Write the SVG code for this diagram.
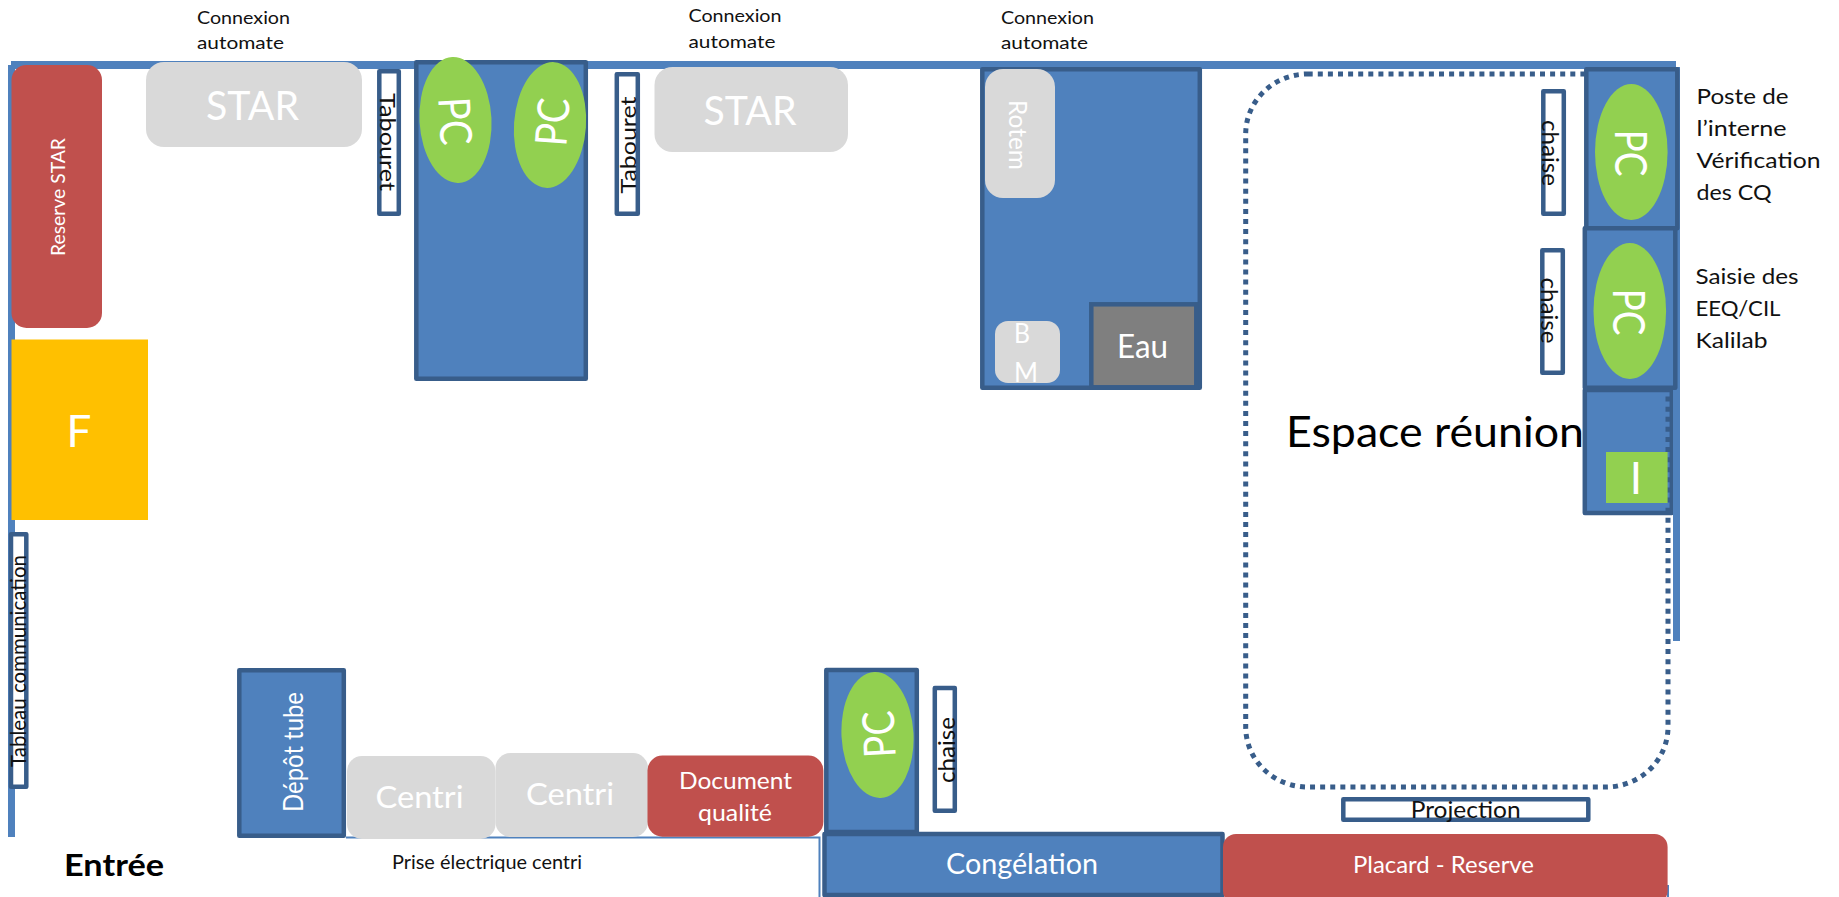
<svg xmlns="http://www.w3.org/2000/svg" width="1839" height="897" viewBox="0 0 1839 897">
<style>
text{font-family:"Lato","Carlito","Open Sans",sans-serif}
.w{fill:#fff}.k{fill:#111}.m{text-anchor:middle}
.desk{fill:#4F81BD;stroke:#385D8A;stroke-width:4.5;stroke-linejoin:round}
.box{fill:#fff;stroke:#385D8A;stroke-width:4.5;stroke-linejoin:round}
.red{fill:#C0504D}.gray{fill:#D9D9D9}.pc{fill:#92D050}.wall{fill:#4F81BD}
.dot{fill:none;stroke:#385D8A;stroke-width:5;stroke-dasharray:5 5.1}
</style>
<rect width="1839" height="897" fill="#fff"/>
<g id="walls">
<rect class="wall" x="11" y="61" width="1665" height="8"/>
<rect class="wall" x="8" y="65" width="7" height="772"/>
<rect class="wall" x="1673" y="67" width="7" height="574"/>
<path d="M346 837.5H819.5V897M1668 885V897" fill="none" stroke="#4F81BD" stroke-width="2"/>
</g>
<g id="reserve-star"><rect class="red" x="11.500" y="65" width="90.500" height="263" rx="15"/>
<text class="w m" font-size="20" textLength="118" lengthAdjust="spacingAndGlyphs" transform="translate(65,197) rotate(-90)">Reserve STAR</text></g>
<g id="star-1"><rect class="gray" x="146" y="62" width="216" height="85" rx="18"/>
<text class="w m" x="252.500" y="120" font-size="41" textLength="93" lengthAdjust="spacingAndGlyphs">STAR</text></g>
<g id="tabouret-1"><rect class="box" x="379.300" y="71.300" width="19.500" height="142.500"/>
<text class="k m" font-size="22" textLength="98" lengthAdjust="spacingAndGlyphs" transform="translate(380,142) rotate(90)">Tabouret</text></g>
<g id="desk-1"><rect class="desk" x="416.300" y="62.300" width="169.500" height="316.500"/>
<ellipse class="pc" cx="455.500" cy="120" rx="36" ry="63" transform="rotate(-3 455.500 120)"/>
<ellipse class="pc" cx="550" cy="125" rx="36" ry="63" transform="rotate(4 550 125)"/>
<text class="w m" font-size="44" textLength="48" lengthAdjust="spacingAndGlyphs" transform="translate(439.500,122) rotate(87)">PC</text>
<text class="w m" font-size="44" textLength="48" lengthAdjust="spacingAndGlyphs" transform="translate(568,123) rotate(-86)">PC</text></g>
<g id="tabouret-2"><rect class="box" x="616.800" y="74.300" width="21" height="139.500"/>
<text class="k m" font-size="22" textLength="97" lengthAdjust="spacingAndGlyphs" transform="translate(636.400,145) rotate(-90)">Tabouret</text></g>
<g id="star-2"><rect class="gray" x="654.500" y="67" width="193.500" height="85" rx="18"/>
<text class="w m" x="750" y="125" font-size="41" textLength="93" lengthAdjust="spacingAndGlyphs">STAR</text></g>
<g id="desk-3"><rect class="desk" x="982.300" y="69.300" width="217.500" height="318.500"/>
<rect class="gray" x="985" y="69" width="70" height="129" rx="18"/>
<text class="w m" font-size="25" textLength="70" lengthAdjust="spacingAndGlyphs" transform="translate(1008.500,135) rotate(90)">Rotem</text>
<rect class="gray" x="995" y="321" width="65" height="62" rx="13"/>
<text class="w" x="1014" y="343" font-size="27" textLength="16" lengthAdjust="spacingAndGlyphs">B</text>
<text class="w" x="1014" y="382" font-size="27" textLength="24" lengthAdjust="spacingAndGlyphs">M</text>
<rect x="1091.300" y="304.300" width="105" height="83" fill="#7F7F7F" stroke="#385D8A" stroke-width="4.500"/>
<text class="w m" x="1142.500" y="358" font-size="33" textLength="51" lengthAdjust="spacingAndGlyphs">Eau</text></g>
<g id="desk-r3"><rect class="desk" x="1584.800" y="390" width="87" height="123"/><rect class="wall" x="1673" y="390" width="7" height="125"/></g>
<g id="espace-reunion"><rect class="dot" x="1245.700" y="74" width="422.300" height="713" rx="62" ry="60"/>
<text x="1286" y="447" font-size="42" fill="#000" textLength="298" lengthAdjust="spacingAndGlyphs">Espace réunion</text></g>
<g id="chaise-1"><rect class="box" x="1543.300" y="91.300" width="20.500" height="122.500"/>
<text class="k m" font-size="24" textLength="66" lengthAdjust="spacingAndGlyphs" transform="translate(1542,153) rotate(90)">chaise</text></g>
<g id="chaise-2"><rect class="box" x="1542.300" y="250.300" width="20.500" height="122.500"/>
<text class="k m" font-size="24" textLength="66" lengthAdjust="spacingAndGlyphs" transform="translate(1541,310.500) rotate(90)">chaise</text></g>
<g id="desk-r1"><rect class="desk" x="1586.300" y="69.300" width="91" height="159"/>
<ellipse class="pc" cx="1631.300" cy="152" rx="36.300" ry="68"/>
<text class="w m" font-size="44" textLength="47" lengthAdjust="spacingAndGlyphs" transform="translate(1615,153) rotate(90)">PC</text></g>
<g id="desk-r2"><rect class="desk" x="1584.800" y="228.300" width="90.500" height="159.500"/>
<ellipse class="pc" cx="1629.800" cy="311" rx="36.300" ry="68"/>
<text class="w m" font-size="44" textLength="47" lengthAdjust="spacingAndGlyphs" transform="translate(1613.400,312) rotate(90)">PC</text></g>
<g id="green-square"><rect class="pc" x="1606" y="452" width="61.600" height="51"/>
<text class="w m" x="1636" y="494" font-size="44">I</text></g>
<g id="f"><rect x="11.500" y="339.500" width="136.500" height="180.500" fill="#FFC000"/>
<text class="w m" x="79" y="447" font-size="44">F</text></g>
<g id="tableau"><rect class="box" x="11" y="534.300" width="15.300" height="252.500"/>
<text class="k m" font-size="22" textLength="212" lengthAdjust="spacingAndGlyphs" transform="translate(25.700,661) rotate(-90)">Tableau communication</text></g>
<g id="depot-tube"><rect class="desk" x="239.300" y="670.300" width="104.500" height="165.500"/>
<text class="w m" font-size="27" textLength="120" lengthAdjust="spacingAndGlyphs" transform="translate(302.500,752) rotate(-90)">Dépôt tube</text></g>
<g id="centri-1"><rect class="gray" x="347" y="756" width="148.500" height="83" rx="15"/>
<text class="w m" x="419.500" y="808" font-size="31" textLength="88" lengthAdjust="spacingAndGlyphs">Centri</text></g>
<g id="centri-2"><rect class="gray" x="495.500" y="753" width="152.500" height="84" rx="15"/>
<text class="w m" x="570" y="805" font-size="31" textLength="88" lengthAdjust="spacingAndGlyphs">Centri</text></g>
<g id="document-qualite"><rect class="red" x="647.500" y="755.500" width="175.900" height="81.200" rx="15"/>
<text class="w m" x="735.500" y="789" font-size="24" textLength="113" lengthAdjust="spacingAndGlyphs">Document</text>
<text class="w m" x="735" y="820.700" font-size="24" textLength="74" lengthAdjust="spacingAndGlyphs">qualité</text></g>
<g id="desk-pc"><rect class="desk" x="826.300" y="670" width="90.500" height="162"/>
<ellipse class="pc" cx="877.500" cy="735" rx="36" ry="63" transform="rotate(-3 877.500 735)"/>
<text class="w m" font-size="44" textLength="47" lengthAdjust="spacingAndGlyphs" transform="translate(894.600,733.500) rotate(-93)">PC</text></g>
<g id="chaise-3"><rect class="box" x="934.800" y="688" width="20" height="122.800"/>
<text class="k m" font-size="24" textLength="66" lengthAdjust="spacingAndGlyphs" transform="translate(954.700,750) rotate(-90)">chaise</text></g>
<g id="congelation"><rect class="desk" x="824.500" y="834" width="398" height="61"/>
<text class="w m" x="1022" y="874" font-size="29" textLength="152" lengthAdjust="spacingAndGlyphs">Congélation</text></g>
<g id="placard"><rect class="red" x="1223" y="834" width="444.600" height="70" rx="13"/>
<text class="w m" x="1443.500" y="873.300" font-size="24" textLength="181" lengthAdjust="spacingAndGlyphs">Placard - Reserve</text></g>
<g id="projection"><rect class="box" x="1343.300" y="799.300" width="245" height="20.500"/>
<text class="k m" x="1465.700" y="818" font-size="24" textLength="110" lengthAdjust="spacingAndGlyphs">Projection</text></g>
<g id="labels" class="k">
<text x="197" y="23.500" font-size="18" textLength="93" lengthAdjust="spacingAndGlyphs">Connexion</text>
<text x="197" y="49" font-size="18" textLength="87" lengthAdjust="spacingAndGlyphs">automate</text>
<text x="688.500" y="22" font-size="18" textLength="93" lengthAdjust="spacingAndGlyphs">Connexion</text>
<text x="688.500" y="48" font-size="18" textLength="87" lengthAdjust="spacingAndGlyphs">automate</text>
<text x="1001" y="23.500" font-size="18" textLength="93" lengthAdjust="spacingAndGlyphs">Connexion</text>
<text x="1001" y="49" font-size="18" textLength="87" lengthAdjust="spacingAndGlyphs">automate</text>
<text x="1696.500" y="104" font-size="22" textLength="92" lengthAdjust="spacingAndGlyphs">Poste de</text>
<text x="1696.500" y="136" font-size="22" textLength="90" lengthAdjust="spacingAndGlyphs">l’interne</text>
<text x="1696.500" y="168" font-size="22" textLength="124" lengthAdjust="spacingAndGlyphs">Vérification</text>
<text x="1696.500" y="200" font-size="22" textLength="75" lengthAdjust="spacingAndGlyphs">des CQ</text>
<text x="1695.500" y="283.500" font-size="22" textLength="103" lengthAdjust="spacingAndGlyphs">Saisie des</text>
<text x="1695.500" y="315.500" font-size="22" textLength="85" lengthAdjust="spacingAndGlyphs">EEQ/CIL</text>
<text x="1695.500" y="347.500" font-size="22" textLength="72" lengthAdjust="spacingAndGlyphs">Kalilab</text>
<text x="64" y="875.700" font-size="30" font-weight="700" fill="#000" textLength="100" lengthAdjust="spacingAndGlyphs">Entrée</text>
<text x="392" y="869" font-size="19" textLength="190" lengthAdjust="spacingAndGlyphs">Prise électrique centri</text>
</g>
</svg>
